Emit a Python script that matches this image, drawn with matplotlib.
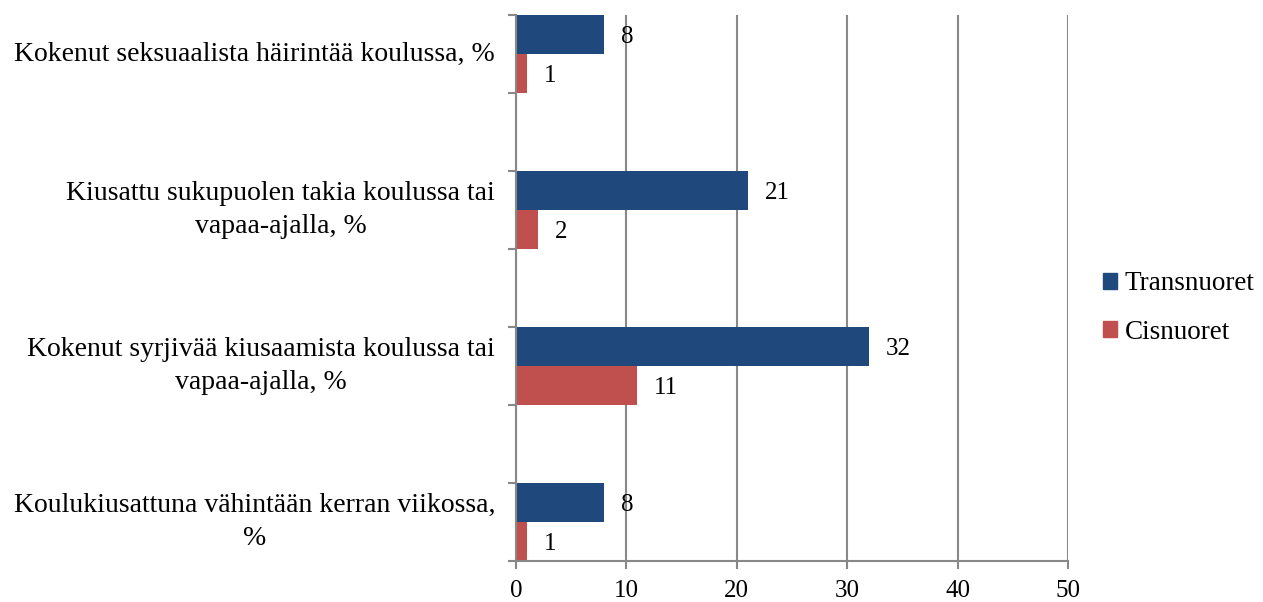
import matplotlib.pyplot as plt
from matplotlib.patches import Patch

plt.rcParams['font.family'] = ['Liberation Serif', 'DejaVu Serif']

# categories, top to bottom
categories = [
    "Kokenut seksuaalista häirintää koulussa, %",
    "Kiusattu sukupuolen takia koulussa tai\nvapaa-ajalla, %",
    "Kokenut syrjivää kiusaamista koulussa tai\nvapaa-ajalla, %",
    "Koulukiusattuna vähintään kerran viikossa,\n%",
]
trans = [8, 21, 32, 8]
cis = [1, 2, 11, 1]
series_names = ["Transnuoret", "Cisnuoret"]

blue = "#1F497D"
red = "#C0504D"
gray = "#888888"

fig = plt.figure(figsize=(12.63, 6.02), dpi=100)
ax = fig.add_axes([516 / 1263, 1 - 561 / 602, (1068 - 516) / 1263, (561 - 15) / 602])

n = len(categories)
for i, (lab, t, c) in enumerate(zip(categories, trans, cis)):
    base = 2 * (n - 1 - i)
    ax.barh(base + 0.75, t, height=0.5, color=blue)
    ax.barh(base + 0.25, c, height=0.5, color=red)
    ax.text(t + 1.5, base + 0.72, str(t), va="center", ha="left", fontsize=18)
    ax.text(c + 1.5, base + 0.22, str(c), va="center", ha="left", fontsize=18)
    ax.annotate(lab, xy=(0, base + 0.5), xycoords="data", xytext=(-15, 0),
                textcoords="offset points", va="center", ha="right",
                multialignment="center", fontsize=20, linespacing=1.45)

ax.set_xlim(0, 50)
ax.set_ylim(0, 7)
ax.set_xticks(range(0, 51, 10))
ax.set_yticks(range(0, 8))
ax.set_yticklabels([])
ax.tick_params(axis="y", length=6, color=gray, width=1.5, direction="out")
ax.tick_params(axis="x", length=6, color=gray, width=1.5, direction="out",
               labelsize=18, pad=8)
ax.grid(axis="x", color=gray, linewidth=1.5)
ax.set_axisbelow(True)
for s in ["top", "right"]:
    ax.spines[s].set_visible(False)
for s in ["left", "bottom"]:
    ax.spines[s].set_color(gray)
    ax.spines[s].set_linewidth(1.5)

handles = [Patch(color=blue), Patch(color=red)]
fig.legend(handles, series_names, loc="center left", bbox_to_anchor=(1103 / 1263, 1 - 308 / 602),
           frameon=False, fontsize=19.5, handlelength=0.5, handleheight=0.5,
           handletextpad=0.3, labelspacing=0.85, borderpad=0, borderaxespad=0)

fig.savefig("out.png", dpi=100)
